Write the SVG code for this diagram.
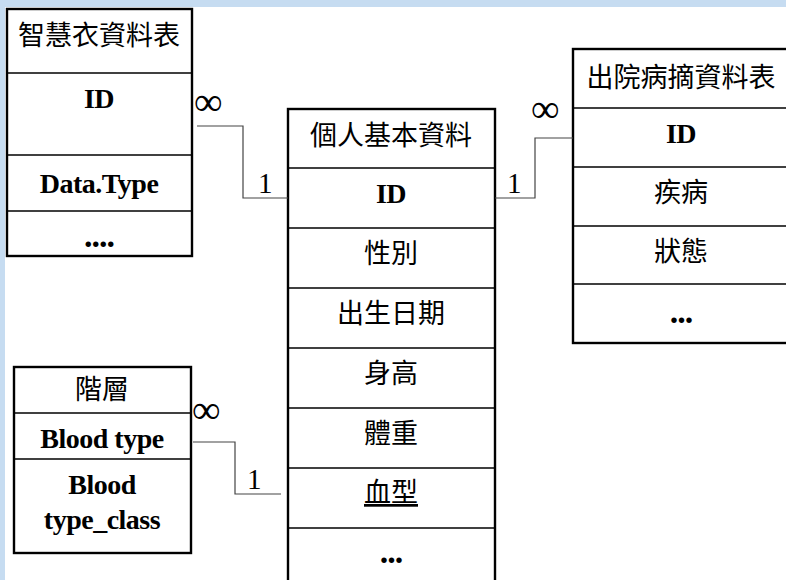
<svg xmlns="http://www.w3.org/2000/svg" width="786" height="580" viewBox="0 0 786 580">
<style>
.box{fill:#fff;stroke:#000;stroke-width:2.4}
.div{stroke:#000;stroke-width:1.4}
.zh{font-family:"Noto Sans CJK TC","Noto Sans CJK SC",sans-serif;font-size:27px;fill:#000;text-anchor:middle}
.en{font-family:"Liberation Serif","Times New Roman",serif;font-weight:bold;font-size:28px;fill:#000;text-anchor:middle;letter-spacing:-0.5px}
.dots{font-family:"Liberation Serif","Times New Roman",serif;font-weight:bold;font-size:34px;fill:#000;text-anchor:middle;letter-spacing:-1px}
.lbl{font-family:"Liberation Serif","Times New Roman",serif;font-size:29px;fill:#000}
.inf{font-family:"Liberation Serif","Times New Roman",serif;font-size:40px;fill:#000}
.conn{fill:none;stroke:#444;stroke-width:1.2}
</style>
<rect x="0" y="0" width="786" height="580" fill="#c6dcf1"/>
<rect x="5" y="7" width="781" height="573" fill="#fff"/>

<g id="smartwear">
<rect class="box" x="7" y="9" width="185" height="247"/>
<line class="div" x1="7" y1="73" x2="192" y2="73"/>
<line class="div" x1="7" y1="155" x2="192" y2="155"/>
<line class="div" x1="7" y1="211" x2="192" y2="211"/>
<text class="zh" x="99" y="45">智慧衣資料表</text>
<text class="en" x="99" y="108">ID</text>
<text class="en" x="99" y="193">Data.Type</text>
<text class="dots" x="99" y="247">....</text>
</g>

<g id="personal">
<rect class="box" x="288" y="109" width="207" height="480"/>
<line class="div" x1="288" y1="168" x2="495" y2="168"/>
<line class="div" x1="288" y1="228" x2="495" y2="228"/>
<line class="div" x1="288" y1="288" x2="495" y2="288"/>
<line class="div" x1="288" y1="348" x2="495" y2="348"/>
<line class="div" x1="288" y1="408" x2="495" y2="408"/>
<line class="div" x1="288" y1="468" x2="495" y2="468"/>
<line class="div" x1="288" y1="528" x2="495" y2="528"/>
<text class="zh" x="391" y="145">個人基本資料</text>
<text class="en" x="391" y="203">ID</text>
<text class="zh" x="391" y="263">性別</text>
<text class="zh" x="391" y="323">出生日期</text>
<text class="zh" x="391" y="383">身高</text>
<text class="zh" x="391" y="443">體重</text>
<text class="zh" x="391" y="502" text-decoration="underline">血型</text>
<text class="dots" x="391" y="563">...</text>
</g>

<g id="discharge">
<rect class="box" x="573" y="49" width="230" height="294"/>
<line class="div" x1="573" y1="108" x2="786" y2="108"/>
<line class="div" x1="573" y1="167" x2="786" y2="167"/>
<line class="div" x1="573" y1="226" x2="786" y2="226"/>
<line class="div" x1="573" y1="284" x2="786" y2="284"/>
<text class="zh" x="681" y="87">出院病摘資料表</text>
<text class="en" x="681" y="143">ID</text>
<text class="zh" x="681" y="202">疾病</text>
<text class="zh" x="681" y="261">狀態</text>
<text class="dots" x="681" y="323">...</text>
</g>

<g id="hierarchy">
<rect class="box" x="14" y="367" width="177" height="186"/>
<line class="div" x1="14" y1="413" x2="191" y2="413"/>
<line class="div" x1="14" y1="459" x2="191" y2="459"/>
<text class="zh" x="102" y="399">階層</text>
<text class="en" x="102" y="448">Blood type</text>
<text class="en" x="102" y="494">Blood</text>
<text class="en" x="102" y="529">type_class</text>
</g>

<g id="connectors">
<polyline class="conn" points="197,126 243,126 243,198 288,198"/>
<polyline class="conn" points="495,198 535,198 535,138 573,138"/>
<polyline class="conn" points="193,442 235,442 235,494 281,494"/>
<text class="inf" x="194" y="115">∞</text>
<text class="lbl" x="258" y="193">1</text>
<text class="lbl" x="507" y="193">1</text>
<text class="inf" x="531" y="122">∞</text>
<text class="inf" x="192" y="423">∞</text>
<text class="lbl" x="247" y="489">1</text>
</g>
</svg>
